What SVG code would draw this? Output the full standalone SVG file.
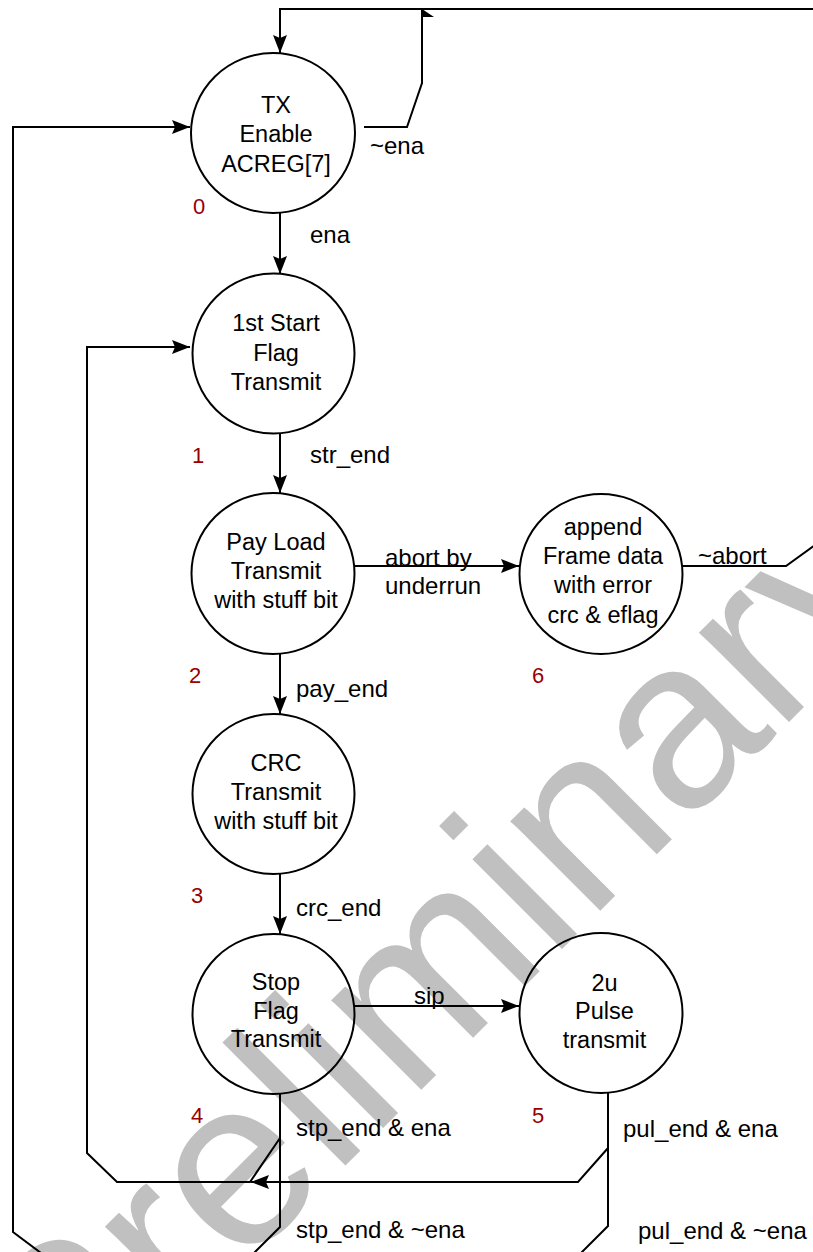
<svg xmlns="http://www.w3.org/2000/svg" width="813" height="1252" viewBox="0 0 813 1252">
<style>
.n{fill:none;stroke:#000;stroke-width:2}
.t{font-family:"Liberation Sans",Arial,sans-serif;font-size:23.5px;fill:#000;text-anchor:middle}
.l{font-family:"Liberation Sans",Arial,sans-serif;font-size:24px;fill:#000}
.d{font-family:"Liberation Sans",Arial,sans-serif;font-size:22px;fill:#900}
.c{fill:none;stroke:#000;stroke-width:2}
.a{marker-end:url(#ah)}
.wm{font-family:"Liberation Sans",Arial,sans-serif;font-size:240px;fill:#c0c0c0}
</style>
<defs>
<marker id="ah" markerUnits="userSpaceOnUse" markerWidth="20" markerHeight="16" refX="18" refY="7" orient="auto">
<path d="M0,0 L18,7 L0,14 L3,7 z" fill="#000"/>
</marker>
</defs>
<rect width="813" height="1252" fill="#fff"/>
<text class="wm" transform="translate(70,1441) rotate(-45)">Preliminary</text>
<g id="connectors">
<path class="c a" d="M830,9 H280 V53"/>
<path class="c" d="M364,127 H407 L422,83 V10"/>
<polygon points="422,9 434,17 422,17" fill="#000"/>
<path class="c" d="M683,566 H786 L840,527"/>
<path class="c a" d="M53,1262 L13,1232 V127 H190"/>
<path class="c a" d="M280,213 V274"/>
<path class="c a" d="M280,433 V493"/>
<path class="c a" d="M280,654 V714"/>
<path class="c a" d="M280,874 V934"/>
<path class="c a" d="M354,566 H519"/>
<path class="c a" d="M354,1006 H519"/>
<path class="c a" d="M608,1093 V1148 L578,1182 H251"/>
<path class="c a" d="M280,1094 V1138 L250,1182 H117 L87,1153 V347 H190"/>
<path class="c" d="M280,1138 V1227 L245,1262"/>
<path class="c" d="M608,1148 V1226 L572,1262"/>
<text class="l" x="370" y="154">~ena</text>
<text class="l" x="310" y="243">ena</text>
<text class="l" x="310" y="463">str_end</text>
<text class="l" x="296" y="697">pay_end</text>
<text class="l" x="296" y="916">crc_end</text>
<text class="l" x="385" y="566">abort by</text>
<text class="l" x="385" y="594">underrun</text>
<text class="l" x="698" y="564">~abort</text>
<text class="l" x="414" y="1004">sip</text>
<text class="l" x="296" y="1136">stp_end &amp; ena</text>
<text class="l" x="296" y="1238">stp_end &amp; ~ena</text>
<text class="l" x="623" y="1137">pul_end &amp; ena</text>
<text class="l" x="638" y="1239">pul_end &amp; ~ena</text>
</g>
<g id="node0">
<ellipse class="n" cx="273" cy="133" rx="82" ry="80"/>
<text class="t" x="276" y="113">TX</text>
<text class="t" x="276" y="142">Enable</text>
<text class="t" x="276" y="172">ACREG[7]</text>
<text class="d" x="193" y="214">0</text>
</g>
<g id="node1">
<ellipse class="n" cx="273.5" cy="353.5" rx="81" ry="80"/>
<text class="t" x="276" y="331">1st Start</text>
<text class="t" x="276" y="361">Flag</text>
<text class="t" x="276" y="389.5">Transmit</text>
<text class="d" x="192" y="463">1</text>
</g>
<g id="node2">
<ellipse class="n" cx="273" cy="573.5" rx="81.5" ry="80.5"/>
<text class="t" x="276" y="550">Pay Load</text>
<text class="t" x="276" y="579">Transmit</text>
<text class="t" x="276" y="608">with stuff bit</text>
<text class="d" x="189" y="683">2</text>
</g>
<g id="node3">
<ellipse class="n" cx="273.5" cy="794" rx="81" ry="80"/>
<text class="t" x="276" y="771">CRC</text>
<text class="t" x="276" y="799.5">Transmit</text>
<text class="t" x="276" y="829">with stuff bit</text>
<text class="d" x="191" y="903">3</text>
</g>
<g id="node4">
<ellipse class="n" cx="273.5" cy="1014" rx="81" ry="80"/>
<text class="t" x="276" y="990">Stop</text>
<text class="t" x="276" y="1019">Flag</text>
<text class="t" x="276" y="1047">Transmit</text>
<text class="d" x="191" y="1123">4</text>
</g>
<g id="node5">
<ellipse class="n" cx="601" cy="1013" rx="81.5" ry="80"/>
<text class="t" x="604.5" y="990.5">2u</text>
<text class="t" x="604.5" y="1019">Pulse</text>
<text class="t" x="604.5" y="1047.5">transmit</text>
<text class="d" x="532" y="1123">5</text>
</g>
<g id="node6">
<ellipse class="n" cx="601" cy="574" rx="81.5" ry="80"/>
<text class="t" x="603" y="535">append</text>
<text class="t" x="603" y="564">Frame data</text>
<text class="t" x="603" y="593">with error</text>
<text class="t" x="603" y="622.5">crc &amp; eflag</text>
<text class="d" x="532" y="683">6</text>
</g>
</svg>
